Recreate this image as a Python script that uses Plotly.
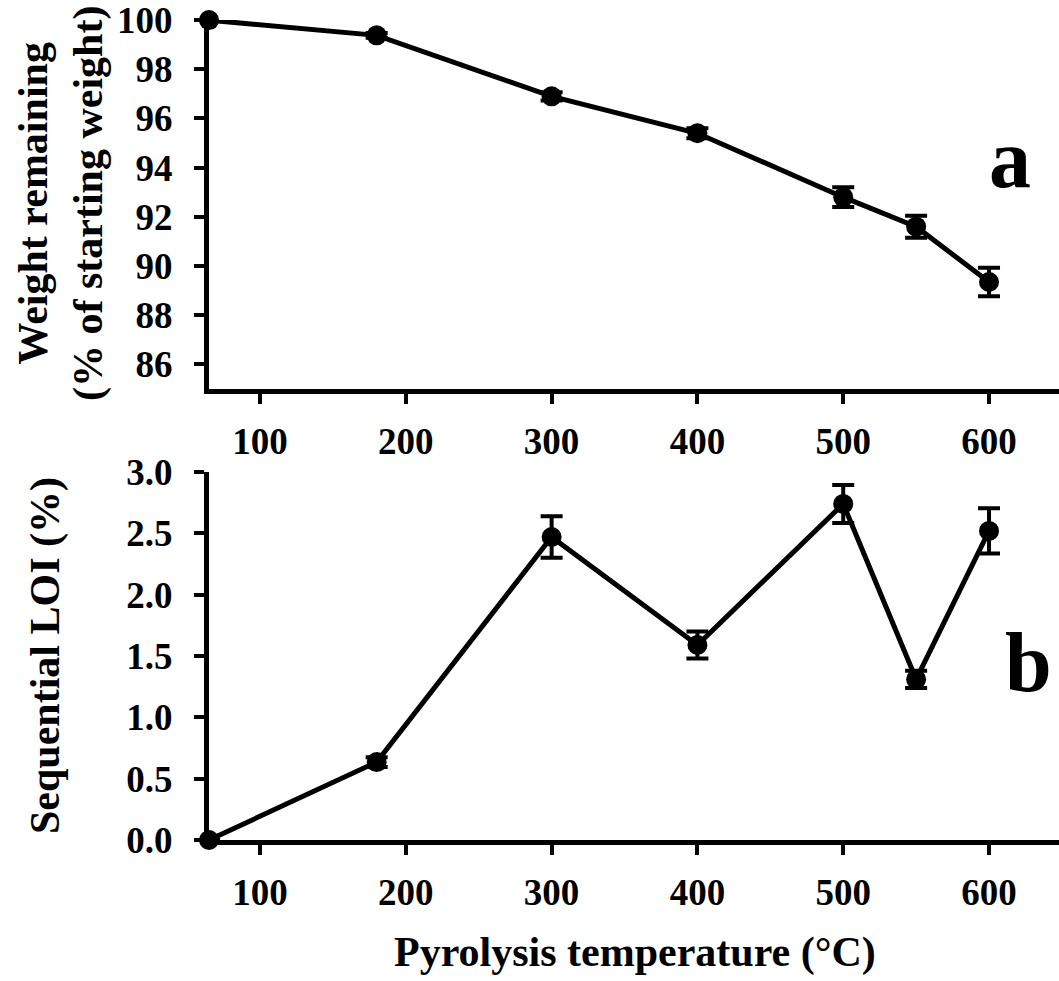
import plotly.graph_objects as go
from plotly.subplots import make_subplots

temps = [65, 180, 300, 400, 500, 550, 600]
weight_remaining = [100.0, 99.38, 96.9, 95.4, 92.8, 91.6, 89.35]
weight_err = [0.0, 0.1, 0.17, 0.2, 0.4, 0.45, 0.58]
seq_loi = [0.0, 0.635, 2.47, 1.59, 2.74, 1.31, 2.52]
seq_loi_err = [0.0, 0.04, 0.17, 0.11, 0.155, 0.07, 0.185]

x_ticks = [100, 200, 300, 400, 500, 600]
y1_ticks = [86, 88, 90, 92, 94, 96, 98, 100]
y2_ticks = [0.0, 0.5, 1.0, 1.5, 2.0, 2.5, 3.0]

FAM = "Liberation Serif, Times New Roman, serif"
W, H = 1059, 981
ML, MR, MT, MB = 209, 0, 20, 141

fig = make_subplots(rows=2, cols=1, vertical_spacing=0.1)

common = dict(mode="lines+markers",
              line=dict(color="black", width=5),
              marker=dict(color="black", size=20),
              cliponaxis=False, showlegend=False)

fig.add_trace(go.Scatter(x=temps, y=weight_remaining,
                         error_y=dict(type="data", array=weight_err, color="black",
                                      thickness=4, width=11),
                         **common), row=1, col=1)
fig.add_trace(go.Scatter(x=temps, y=seq_loi,
                         error_y=dict(type="data", array=seq_loi_err, color="black",
                                      thickness=4, width=11),
                         **common), row=2, col=1)

tickfont = dict(family=FAM, size=37, color="black", weight="bold")
xax = dict(range=[65, 648], tickvals=x_ticks, showline=True, linewidth=5, linecolor="black",
           ticks="outside", ticklen=10, tickwidth=4, tickcolor="black",
           tickfont=tickfont, showgrid=False, zeroline=False, ticklabelstandoff=6)
fig.update_layout(
    xaxis=dict(xax, domain=[0, 1]),
    xaxis2=dict(xax, domain=[0, 1]),
    yaxis=dict(range=[85, 100.005], tickvals=y1_ticks, showline=True, linewidth=5, linecolor="black",
               ticks="outside", ticklen=10, tickwidth=4, tickcolor="black",
               tickfont=tickfont, showgrid=False, zeroline=False, domain=[(840-389)/820, 1.0],
               ticklabelstandoff=14, ticklabeloverflow="allow"),
    yaxis2=dict(range=[0, 3.0], tickvals=y2_ticks, tickformat=".1f", showline=True, linewidth=5,
                linecolor="black", ticks="outside", ticklen=10, tickwidth=4, tickcolor="black",
                tickfont=tickfont, showgrid=False, zeroline=False, domain=[0, (840-472)/820],
                ticklabelstandoff=14),
    width=W, height=H,
    margin=dict(l=ML, r=MR, t=MT, b=MB),
    plot_bgcolor="white", paper_bgcolor="white",
)

def px_x(p):
    return (p - ML) / (W - ML - MR)

def px_y(p):
    return (H - MB - p) / (H - MT - MB)

titlefont = dict(family=FAM, size=42, color="black", weight="bold")
fig.add_annotation(text="Weight remaining<br>(% of starting weight)", textangle=-90,
                   xref="paper", yref="paper", x=px_x(61), y=px_y(204),
                   xanchor="center", yanchor="middle", showarrow=False, font=titlefont)
fig.add_annotation(text="Sequential LOI (%)", textangle=-90,
                   xref="paper", yref="paper", x=px_x(45), y=px_y(656),
                   xanchor="center", yanchor="middle", showarrow=False, font=titlefont)
fig.add_annotation(text="Pyrolysis temperature (°C)",
                   xref="paper", yref="paper", x=px_x(635), y=px_y(953),
                   xanchor="center", yanchor="middle", showarrow=False, font=titlefont)
letterfont = dict(family=FAM, size=84, color="black", weight="bold")
fig.add_annotation(text="a", xref="paper", yref="paper", x=px_x(1010), y=px_y(158),
                   xanchor="center", yanchor="middle", showarrow=False, font=letterfont)
fig.add_annotation(text="b", xref="paper", yref="paper", x=px_x(1028), y=px_y(662),
                   xanchor="center", yanchor="middle", showarrow=False, font=letterfont)

fig.write_html("out.html")
